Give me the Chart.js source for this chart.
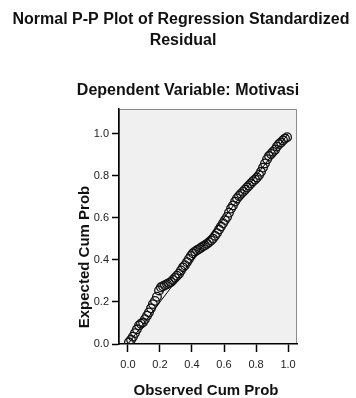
<!DOCTYPE html>
<html>
<head>
<meta charset="utf-8">
<script src="https://cdn.jsdelivr.net/npm/chart.js@4"></script>
<style>
  html, body { margin: 0; padding: 0; background: #fff; }
  canvas { display: block; }
</style>
</head>
<body>
<canvas id="ppChart" width="356" height="398"></canvas>
<script>
// observed cum prob (x) and expected cum prob (y)
const observedCum = [
  0.006, 0.019, 0.031, 0.044, 0.056, 0.069, 0.081, 0.094, 0.106, 0.119,
  0.131, 0.144, 0.156, 0.169, 0.181, 0.194, 0.206, 0.219, 0.231, 0.244,
  0.256, 0.269, 0.281, 0.294, 0.306, 0.319, 0.331, 0.344, 0.356, 0.369,
  0.381, 0.394, 0.406, 0.419, 0.431, 0.444, 0.456, 0.469, 0.481, 0.494,
  0.506, 0.519, 0.531, 0.544, 0.556, 0.569, 0.581, 0.594, 0.606, 0.619,
  0.631, 0.644, 0.656, 0.669, 0.681, 0.694, 0.706, 0.719, 0.731, 0.744,
  0.756, 0.769, 0.781, 0.794, 0.806, 0.819, 0.831, 0.844, 0.856, 0.869,
  0.881, 0.894, 0.906, 0.919, 0.931, 0.944, 0.956, 0.969, 0.981, 0.994
];
const expectedCum = [
  0.008, 0.020, 0.035, 0.052, 0.070, 0.088, 0.097, 0.103, 0.118, 0.135,
  0.150, 0.170, 0.190, 0.205, 0.225, 0.255, 0.270, 0.275, 0.280, 0.285,
  0.290, 0.295, 0.305, 0.315, 0.325, 0.335, 0.350, 0.365, 0.375, 0.390,
  0.405, 0.420, 0.432, 0.440, 0.447, 0.452, 0.458, 0.465, 0.470, 0.477,
  0.485, 0.493, 0.502, 0.515, 0.528, 0.545, 0.560, 0.575, 0.590, 0.605,
  0.625, 0.645, 0.660, 0.678, 0.693, 0.705, 0.715, 0.725, 0.735, 0.745,
  0.755, 0.765, 0.775, 0.783, 0.793, 0.805, 0.820, 0.840, 0.860, 0.880,
  0.895, 0.905, 0.915, 0.925, 0.940, 0.952, 0.960, 0.970, 0.978, 0.985
];
const diagonal = [0, 1];
const tickValues = [0, 0.2, 0.4, 0.6, 0.8, 1.0];

const titleLines = ["Normal P-P Plot of Regression Standardized", "Residual"];
const subTitle = "Dependent Variable: Motivasi";
const xTitle = "Observed Cum Prob";
const yTitle = "Expected Cum Prob";

const points = observedCum.map((x, i) => ({ x: x, y: expectedCum[i] }));
const refLine = diagonal.map((v) => ({ x: v, y: v }));

const fontFam = "'Liberation Sans', Arial, sans-serif";

// grey plot background + thin frame, and the text around the plot
const framePlugin = {
  id: "frame",
  beforeDraw(chart) {
    const { ctx, chartArea: a } = chart;
    ctx.save();
    ctx.fillStyle = "#f0f0f0";
    ctx.fillRect(a.left, a.top, a.right - a.left, a.bottom - a.top);
    ctx.strokeStyle = "#8c8c8c";
    ctx.lineWidth = 1;
    ctx.strokeRect(a.left + 0.5, a.top + 0.5, a.right - a.left - 1, a.bottom - a.top - 1);
    ctx.restore();
  },
  afterDraw(chart) {
    const ctx = chart.ctx;
    ctx.save();
    ctx.fillStyle = "#111";
    ctx.textAlign = "center";
    ctx.textBaseline = "middle";
    ctx.font = "bold 16px " + fontFam;
    ctx.fillText(titleLines[0], 181, 20);
    ctx.fillText(titleLines[1], 183, 41);
    ctx.fillText(subTitle, 188, 91);
    ctx.font = "bold 15px " + fontFam;
    ctx.fillText(xTitle, 206, 391);
    ctx.translate(85, 257);
    ctx.rotate(-Math.PI / 2);
    ctx.fillText(yTitle, 0, 0);
    ctx.restore();
  }
};

function setTicks(scale) {
  scale.ticks = tickValues.map((v) => ({ value: v }));
}

new Chart("ppChart", {
  type: "scatter",
  data: {
    datasets: [
      {
        type: "line",
        data: refLine,
        borderColor: "#000",
        borderWidth: 1,
        pointRadius: 0,
        fill: false,
        order: 0
      },
      {
        data: points,
        pointRadius: 4.3,
        pointHoverRadius: 4.3,
        pointBorderWidth: 1.3,
        pointBorderColor: "#111",
        pointBackgroundColor: "rgba(0,0,0,0)",
        order: 1
      }
    ]
  },
  options: {
    responsive: false,
    animation: false,
    layout: { padding: { top: 109, right: 59, left: 0, bottom: 0 } },
    plugins: {
      legend: { display: false },
      tooltip: { enabled: false }
    },
    scales: {
      x: {
        type: "linear",
        min: -0.056,
        max: 1.056,
        afterBuildTicks: setTicks,
        afterFit: (s) => { s.height = 54; },
        ticks: {
          callback: (v) => v.toFixed(1),
          font: { size: 11, family: fontFam },
          color: "#222",
          padding: 6,
          maxRotation: 0,
          autoSkip: false
        },
        grid: { drawOnChartArea: false, tickLength: 8, tickColor: "#000", tickWidth: 1.5 },
        border: { color: "#000", width: 1.5 }
      },
      y: {
        type: "linear",
        min: 0,
        max: 1.119,
        afterBuildTicks: setTicks,
        afterFit: (s) => { s.width = 119; },
        ticks: {
          callback: (v) => v.toFixed(1),
          font: { size: 11, family: fontFam },
          color: "#222",
          padding: 3,
          autoSkip: false
        },
        grid: { drawOnChartArea: false, tickLength: 7, tickColor: "#000", tickWidth: 1.5 },
        border: { color: "#000", width: 1.5 }
      }
    }
  },
  plugins: [framePlugin]
});
</script>
</body>
</html>
